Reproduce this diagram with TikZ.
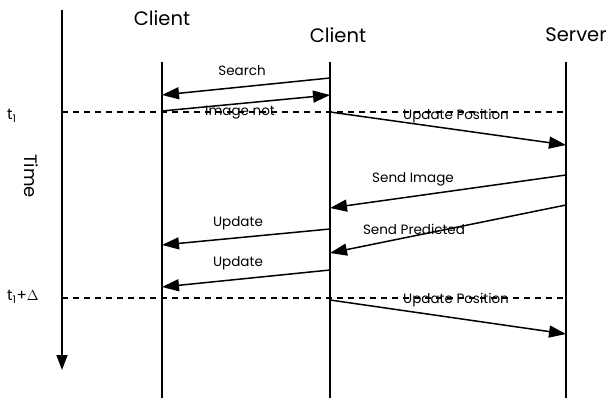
\documentclass[tikz,border=0pt]{standalone}
\usepackage{fontspec}
\setmainfont{Poppins}
\usetikzlibrary{arrows.meta}
\begin{document}
\begin{tikzpicture}[x=1pt,y=-1pt,
  life/.style={line width=1.5pt},
  msg/.style={line width=1.5pt,-{Triangle[length=17pt,width=12pt]}},
  guide/.style={line width=1.2pt,dash pattern=on 6pt off 5pt},
  lbl/.style={font=\fontsize{13.5}{15}\selectfont,inner sep=0pt},
  head/.style={font=\fontsize{19.5}{22}\selectfont,inner sep=0pt}]
\useasboundingbox (0,0) rectangle (610,398);
% headers
\node[head] (hc1) at (162,18) {Client};
\node[head] (hc2) at (338,35) {Client};
\node[head] (hsv) at (576,35) {Server};
% time axis
\coordinate (ta) at (62,10);
\coordinate (tb) at (62,370);
\draw[line width=1.5pt,-{Triangle[length=15pt,width=11pt]}] (ta) -- (tb);
\node[lbl,font=\fontsize{18}{20}\selectfont,rotate=-90] (time) at (31,176) {Time};
\node[lbl,font=\fontsize{15}{17}\selectfont,anchor=west] (t1) at (7,116) {t\textsubscript{1}};
\node[lbl,font=\fontsize{15}{17}\selectfont,anchor=west] (t2) at (7,297) {t\textsubscript{1}+$\Delta$};
% labels (behind lines)
\node[lbl] (l1) at (242,71) {Search};
\node[lbl] (l2) at (240,113) {Image not};
\node[lbl] (l3) at (456,116) {Update Position};
\node[lbl] (l4) at (413,179) {Send Image};
\node[lbl] (l5) at (414,229) {Send Predicted};
\node[lbl] (l6) at (238,223) {Update};
\node[lbl] (l7) at (238,263) {Update};
\node[lbl] (l8) at (456,300) {Update Position};
% lifelines
\coordinate (a0) at (162,62); \coordinate (a1) at (162,398);
\coordinate (b0) at (330,62); \coordinate (b1) at (330,398);
\coordinate (c0) at (566,62); \coordinate (c1) at (566,398);
\draw[life] (a0) -- (a1);
\draw[life] (b0) -- (b1);
\draw[life] (c0) -- (c1);
% guides
\coordinate (g1a) at (62,112); \coordinate (g1b) at (566,112);
\coordinate (g2a) at (62,298); \coordinate (g2b) at (566,298);
\draw[guide] (g1a) -- (g1b);
\draw[guide] (g2a) -- (g2b);
% messages
\coordinate (m1s) at (330,78);  \coordinate (m1e) at (162,95);
\coordinate (m2s) at (162,111); \coordinate (m2e) at (330,95);
\coordinate (m3s) at (330,112); \coordinate (m3e) at (566,145);
\coordinate (m4s) at (566,175); \coordinate (m4e) at (330,208);
\coordinate (m5s) at (566,205); \coordinate (m5e) at (330,253);
\coordinate (m6s) at (330,229); \coordinate (m6e) at (162,245);
\coordinate (m7s) at (330,270); \coordinate (m7e) at (162,287);
\coordinate (m8s) at (330,300); \coordinate (m8e) at (566,334);
\draw[msg] (m1s) -- (m1e);
\draw[msg] (m2s) -- (m2e);
\draw[msg] (m3s) -- (m3e);
\draw[msg] (m4s) -- (m4e);
\draw[msg] (m5s) -- (m5e);
\draw[msg] (m6s) -- (m6e);
\draw[msg] (m7s) -- (m7e);
\draw[msg] (m8s) -- (m8e);
\end{tikzpicture}
\end{document}
